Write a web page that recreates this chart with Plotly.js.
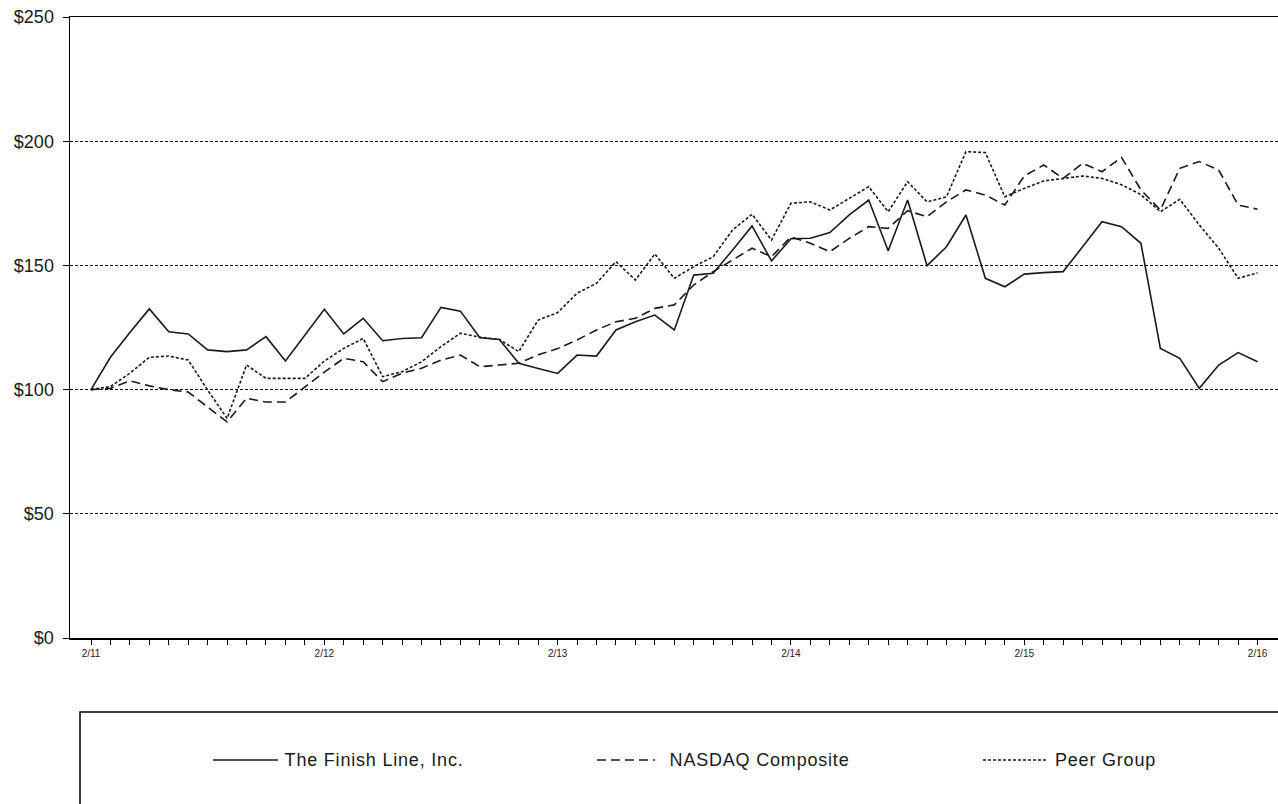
<!DOCTYPE html>
<html>
<head>
<meta charset="utf-8">
<script src="https://cdn.plot.ly/plotly-3.0.1.min.js"></script>
<style>
html,body{margin:0;padding:0;background:#fff;}
#chart{width:1278px;height:804px;}
#chart .annotation-text{letter-spacing:0.8px;}
</style>
</head>
<body>
<div id="chart"></div>
<script>
const months = [
  "2/11","3/11","4/11","5/11","6/11","7/11","8/11","9/11","10/11","11/11","12/11","1/12",
  "2/12","3/12","4/12","5/12","6/12","7/12","8/12","9/12","10/12","11/12","12/12","1/13",
  "2/13","3/13","4/13","5/13","6/13","7/13","8/13","9/13","10/13","11/13","12/13","1/14",
  "2/14","3/14","4/14","5/14","6/14","7/14","8/14","9/14","10/14","11/14","12/14","1/15",
  "2/15","3/15","4/15","5/15","6/15","7/15","8/15","9/15","10/15","11/15","12/15","1/16",
  "2/16"
];
const tickLabels = ["2/11","2/12","2/13","2/14","2/15","2/16"];

const finishLine = [
  100, 113, 123, 132.5, 123.3, 122.4, 116, 115.3, 116, 121.3, 111.5, 122,
  132.3, 122.4, 128.7, 119.7, 120.6, 120.9, 133.1, 131.6, 120.9, 120.2, 110.6, 108.5,
  106.5, 113.9, 113.5, 124, 127.3, 130, 124, 146.1, 146.8, 156.2, 165.9, 151.8,
  160.7, 160.9, 163.2, 170.3, 176.3, 155.9, 176.3, 149.9, 157.5, 170.3, 144.8, 141.4,
  146.5, 147.1, 147.5, 157.5, 167.6, 165.6, 158.9, 116.6, 112.6, 100.5, 109.9, 114.9,
  111.2
];
const nasdaq = [
  100, 100.5, 103.5, 101.5, 100, 99, 93, 87, 96.5, 95, 95, 101,
  107, 112.6, 111.2, 103.2, 106.6, 108.6, 111.9, 113.9, 109.2, 109.9, 110.6, 114,
  116.5, 120, 124, 127.3, 128.7, 132.7, 134.1, 142.1, 147.5, 152.2, 156.9, 153.5,
  161.5, 158.9, 155.5, 160.9, 165.6, 164.9, 172, 169.6, 175.6, 180.4, 178.3, 174.3,
  186, 190.4, 185, 191.1, 187.7, 193.5, 180.4, 172.3, 189.1, 191.8, 188.4, 174.3,
  172.6
];
const peerGroup = [
  100, 101.2, 106.6, 113, 113.5, 111.9, 99.8, 88.4, 109.9, 104.5, 104.5, 104.5,
  111.5, 116.6, 120.6, 105.2, 107.2, 111.2, 117.3, 122.7, 121.1, 120.2, 115.3, 128,
  131, 138.8, 142.8, 151.5, 144.1, 154.6, 144.8, 149.5, 153.5, 164.3, 170.6, 160.2,
  175, 175.6, 172.3, 177, 181.7, 171.6, 183.7, 175.6, 177.6, 195.8, 195.4, 177.6,
  181, 184, 185, 186, 185, 182.5, 178.5, 171.6, 176.6, 166.3, 156.9, 144.8,
  147
];
const seriesNames = ["The Finish Line, Inc.", "NASDAQ Composite", "Peer Group"];
const yTicks = [0, 50, 100, 150, 200, 250];
const yTickLabels = ["$0", "$50", "$100", "$150", "$200", "$250"];

const lineColor = "#1a1a1a";
const styles = [
  {color: lineColor, width: 1.6, dash: "solid"},
  {color: lineColor, width: 1.6, dash: "9px,5px"},
  {color: lineColor, width: 1.6, dash: "3px,2px"}
];
const seriesData = [finishLine, nasdaq, peerGroup];

const traces = seriesData.map((ys, k) => ({
  type: "scatter", mode: "lines", x: months, y: ys,
  name: seriesNames[k], line: styles[k], showlegend: false, hoverinfo: "skip"
}));

const tickText = months.map(m => tickLabels.includes(m) ? m : "");

// Legend drawn by hand (box, line samples, labels), in paper coordinates
const W = 1208, H = 621, L = 70, T = 17;
const px = v => (v - L) / W;
const py = v => (T + H - v) / H;
const legendY = 760;
const samples = [[213, 278], [597, 655], [983, 1047]];
const textX = [291, 674, 1057];

const shapes = [
  {type: "rect", xref: "paper", yref: "paper", x0: px(80), x1: px(1300), y0: py(820), y1: py(712),
   line: {color: "#000", width: 1.5}, fillcolor: "rgba(0,0,0,0)"}
];
samples.forEach((s, k) => shapes.push({
  type: "line", xref: "paper", yref: "paper", x0: px(s[0]), x1: px(s[1]), y0: py(legendY), y1: py(legendY),
  line: {color: lineColor, width: 1.4, dash: styles[k].dash}
}));
const annotations = seriesNames.map((n, k) => ({
  xref: "paper", yref: "paper", x: px(textX[k]), y: py(legendY), xanchor: "left", yanchor: "middle",
  text: n, showarrow: false, font: {family: "Liberation Sans, Arial, sans-serif", size: 18, color: "#1a1a1a"}
}));

const layout = {
  width: 1278, height: 804,
  margin: {l: L, r: 0, t: T, b: 804 - T - H},
  paper_bgcolor: "#fff", plot_bgcolor: "#fff",
  showlegend: false,
  font: {family: "Liberation Sans, Arial, sans-serif", color: "#1a1a1a"},
  xaxis: {
    type: "category", range: [-1.08, 61.05],
    tickmode: "array", tickvals: months, ticktext: tickText,
    ticks: "outside", ticklen: 5, tickwidth: 1, tickcolor: "#000",
    tickfont: {size: 10, color: "#1a1a1a"}, tickangle: 0,
    showline: true, linecolor: "#000", linewidth: 1.5, mirror: true,
    showgrid: false, zeroline: false, fixedrange: true
  },
  yaxis: {
    range: [0, 250], tickmode: "array", tickvals: yTicks, ticktext: yTickLabels,
    ticks: "outside", ticklen: 6, tickcolor: "#000", ticklabelstandoff: 5,
    tickfont: {size: 18, color: "#1a1a1a"},
    showline: true, linecolor: "#000", linewidth: 1.5,
    showgrid: true, gridcolor: "#000", gridwidth: 1, griddash: "3px,2px",
    zeroline: false, fixedrange: true
  },
  shapes: shapes,
  annotations: annotations
};

Plotly.newPlot("chart", traces, layout, {displayModeBar: false, staticPlot: true});
</script>
</body>
</html>
